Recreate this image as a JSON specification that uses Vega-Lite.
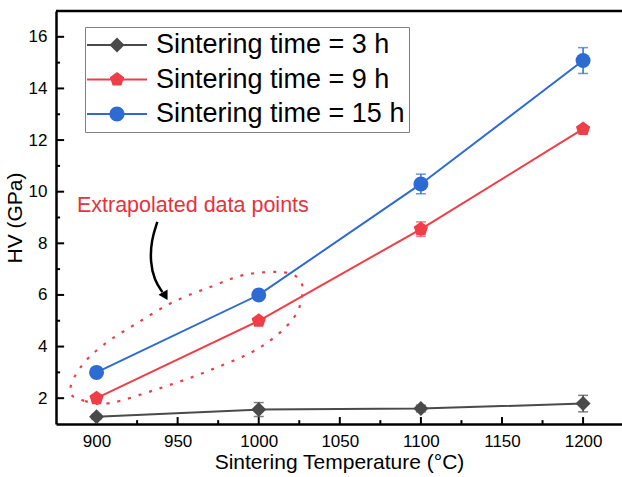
{
  "$schema": "https://vega.github.io/schema/vega-lite/v6.json",
  "width": 566,
  "height": 413,
  "autosize": "none",
  "padding": {"left": 56, "top": 11, "right": 0, "bottom": 53},
  "background": "white",
  "config": {
    "view": {"stroke": null},
    "font": "Liberation Sans",
    "axis": {
      "domainColor": "black",
      "domainWidth": 2.5,
      "labelColor": "black",
      "labelFontSize": 17,
      "titleFontSize": 21,
      "titleFontWeight": "normal",
      "titleColor": "black",
      "grid": false,
      "ticks": false,
      "labelOverlap": false
    }
  },
  "datasets": {
    "main": [
      {"s": "Sintering time = 3 h", "T": 900, "HV": 1.28, "lo": 1.18, "hi": 1.38},
      {"s": "Sintering time = 3 h", "T": 1000, "HV": 1.56, "lo": 1.29, "hi": 1.83},
      {"s": "Sintering time = 3 h", "T": 1100, "HV": 1.6, "lo": 1.47, "hi": 1.73},
      {"s": "Sintering time = 3 h", "T": 1200, "HV": 1.79, "lo": 1.47, "hi": 2.11},
      {"s": "Sintering time = 9 h", "T": 900, "HV": 2.0, "lo": 2.0, "hi": 2.0},
      {"s": "Sintering time = 9 h", "T": 1000, "HV": 5.0, "lo": 5.0, "hi": 5.0},
      {"s": "Sintering time = 9 h", "T": 1100, "HV": 8.55, "lo": 8.27, "hi": 8.83},
      {"s": "Sintering time = 9 h", "T": 1200, "HV": 12.43, "lo": 12.33, "hi": 12.53},
      {"s": "Sintering time = 15 h", "T": 900, "HV": 3.0, "lo": 3.0, "hi": 3.0},
      {"s": "Sintering time = 15 h", "T": 1000, "HV": 6.0, "lo": 6.0, "hi": 6.0},
      {"s": "Sintering time = 15 h", "T": 1100, "HV": 10.3, "lo": 9.92, "hi": 10.68},
      {"s": "Sintering time = 15 h", "T": 1200, "HV": 15.08, "lo": 14.58, "hi": 15.58}
    ],
    "ellipse": [
      {"i": 0, "T": 883.7, "HV": 2.24},
      {"i": 1, "T": 892.9, "HV": 1.89},
      {"i": 2, "T": 908.4, "HV": 1.81},
      {"i": 3, "T": 939.3, "HV": 2.39},
      {"i": 4, "T": 970.2, "HV": 3.09},
      {"i": 5, "T": 1001.2, "HV": 3.98},
      {"i": 6, "T": 1021.6, "HV": 5.11},
      {"i": 7, "T": 1027.1, "HV": 6.19},
      {"i": 8, "T": 1022.8, "HV": 6.73},
      {"i": 9, "T": 1011.7, "HV": 6.89},
      {"i": 10, "T": 990.6, "HV": 6.77},
      {"i": 11, "T": 970.2, "HV": 6.31},
      {"i": 12, "T": 947.4, "HV": 5.73},
      {"i": 13, "T": 925.1, "HV": 4.91},
      {"i": 14, "T": 904.1, "HV": 4.06},
      {"i": 15, "T": 889.8, "HV": 3.17}
    ],
    "arrow": [
      {"i": 0, "T": 937.5, "HV": 8.83},
      {"i": 1, "T": 933.8, "HV": 8.13},
      {"i": 2, "T": 933.1, "HV": 7.28},
      {"i": 3, "T": 935.6, "HV": 6.58},
      {"i": 4, "T": 940.6, "HV": 6.11}
    ],
    "head": [{"T": 942.4, "HV": 5.96}],
    "note": [{"T": 959.4, "HV": 9.45, "label": "Extrapolated data points"}],
    "top": [{"HV": 17}],
    "xmajor": [{"T": 900}, {"T": 950}, {"T": 1000}, {"T": 1050}, {"T": 1100}, {"T": 1150}, {"T": 1200}],
    "xminor": [{"T": 925}, {"T": 975}, {"T": 1025}, {"T": 1075}, {"T": 1125}, {"T": 1175}],
    "ymajor": [{"HV": 2}, {"HV": 4}, {"HV": 6}, {"HV": 8}, {"HV": 10}, {"HV": 12}, {"HV": 14}, {"HV": 16}],
    "yminor": [{"HV": 3}, {"HV": 5}, {"HV": 7}, {"HV": 9}, {"HV": 11}, {"HV": 13}, {"HV": 15}]
  },
  "layer": [
    {
      "data": {"name": "ellipse"},
      "mark": {"type": "line", "interpolate": "cardinal-closed", "stroke": "#e8404a", "strokeWidth": 2.2, "strokeDash": [3, 8]},
      "encoding": {
        "x": {"field": "T", "type": "quantitative"},
        "y": {"field": "HV", "type": "quantitative"},
        "order": {"field": "i"}
      }
    },
    {
      "data": {"name": "main"},
      "mark": {"type": "line", "strokeWidth": 2},
      "encoding": {
        "x": {
          "field": "T", "type": "quantitative",
          "scale": {"domain": [875, 1224], "nice": false, "zero": false},
          "axis": {
            "title": "Sintering Temperature (°C)",
            "values": [900, 950, 1000, 1050, 1100, 1150, 1200],
            "format": "d",
            "tickSize": 0,
            "labelPadding": 9,
            "titlePadding": 2
          }
        },
        "y": {
          "field": "HV", "type": "quantitative",
          "scale": {"domain": [1, 17], "nice": false, "zero": false},
          "axis": {
            "title": "HV (GPa)",
            "values": [2, 4, 6, 8, 10, 12, 14, 16],
            "format": "d",
            "tickSize": 0,
            "labelPadding": 9,
            "titlePadding": 3
          }
        },
        "color": {
          "field": "s", "type": "nominal",
          "scale": {"domain": ["Sintering time = 3 h", "Sintering time = 9 h", "Sintering time = 15 h"], "range": ["#4a4a4a", "#f03e48", "#2d6bd3"]}
        },
        "detail": {"field": "s"}
      }
    },
    {
      "data": {"name": "xmajor"},
      "mark": {"type": "rule", "color": "black", "strokeWidth": 2},
      "encoding": {
        "x": {"field": "T", "type": "quantitative"},
        "y": {"datum": 1},
        "y2": {"datum": 1.27}
      }
    },
    {
      "data": {"name": "xminor"},
      "mark": {"type": "rule", "color": "black", "strokeWidth": 2},
      "encoding": {
        "x": {"field": "T", "type": "quantitative"},
        "y": {"datum": 1},
        "y2": {"datum": 1.15}
      }
    },
    {
      "data": {"name": "ymajor"},
      "mark": {"type": "rule", "color": "black", "strokeWidth": 2},
      "encoding": {
        "y": {"field": "HV", "type": "quantitative"},
        "x": {"datum": 875},
        "x2": {"datum": 880}
      }
    },
    {
      "data": {"name": "yminor"},
      "mark": {"type": "rule", "color": "black", "strokeWidth": 2},
      "encoding": {
        "y": {"field": "HV", "type": "quantitative"},
        "x": {"datum": 875},
        "x2": {"datum": 877.5}
      }
    },
    {
      "data": {"name": "main"},
      "mark": {"type": "rule", "strokeWidth": 1.5},
      "encoding": {
        "x": {"field": "T", "type": "quantitative"},
        "y": {"field": "lo", "type": "quantitative"},
        "y2": {"field": "hi"},
        "color": {"field": "s", "type": "nominal"}
      }
    },
    {
      "data": {"name": "main"},
      "mark": {"type": "tick", "orient": "horizontal", "size": 10, "thickness": 1.5},
      "encoding": {
        "x": {"field": "T", "type": "quantitative"},
        "y": {"field": "lo", "type": "quantitative"},
        "color": {"field": "s", "type": "nominal"}
      }
    },
    {
      "data": {"name": "main"},
      "mark": {"type": "tick", "orient": "horizontal", "size": 10, "thickness": 1.5},
      "encoding": {
        "x": {"field": "T", "type": "quantitative"},
        "y": {"field": "hi", "type": "quantitative"},
        "color": {"field": "s", "type": "nominal"}
      }
    },
    {
      "data": {"name": "main"},
      "mark": {"type": "point", "opacity": 0, "size": 225, "filled": true},
      "encoding": {
        "x": {"field": "T", "type": "quantitative"},
        "y": {"field": "HV", "type": "quantitative"},
        "color": {
          "field": "s", "type": "nominal",
          "legend": {
            "orient": "none",
            "legendX": 29,
            "legendY": 16,
            "title": null,
            "padding": 4.5,
            "strokeColor": "#808080",
            "fillColor": "white",
            "labelFontSize": 27,
            "labelColor": "black",
            "labelLimit": 400,
            "symbolSize": 225,
            "symbolOffset": 14,
            "labelOffset": 25.5,
            "rowPadding": 6.5,
            "symbolStrokeWidth": 0,
            "symbolOpacity": 1,
            "encode": {
              "symbols": {
                "update": {
                  "fill": {"scale": "color", "field": "value"},
                  "opacity": {"value": 1},
                  "fillOpacity": {"value": 1},
                  "strokeOpacity": {"value": 0}
                }
              }
            }
          }
        },
        "shape": {
          "field": "s", "type": "nominal",
          "scale": {"domain": ["Sintering time = 3 h", "Sintering time = 9 h", "Sintering time = 15 h"], "range": ["M-4,-0.13H4V0.13H-4ZM0,-1L1,0L0,1L-1,0Z", "M-4,-0.13H4V0.13H-4ZM0,-1L0.951,-0.309L0.588,0.809L-0.588,0.809L-0.951,-0.309Z", "M-4,-0.13H4V0.13H-4ZM-1,0A1,1,0,1,1,1,0A1,1,0,1,1,-1,0Z"]},
          "legend": {"title": null}
        }
      }
    },
    {
      "data": {"name": "main"},
      "transform": [{"filter": "datum.s == 'Sintering time = 3 h'"}],
      "mark": {"type": "point", "filled": true, "size": 225, "opacity": 1, "shape": "diamond"},
      "encoding": {
        "x": {"field": "T", "type": "quantitative"},
        "y": {"field": "HV", "type": "quantitative"},
        "color": {"field": "s", "type": "nominal"}
      }
    },
    {
      "data": {"name": "main"},
      "transform": [{"filter": "datum.s == 'Sintering time = 9 h'"}],
      "mark": {"type": "point", "filled": true, "size": 225, "opacity": 1, "shape": "M0,-1L0.951,-0.309L0.588,0.809L-0.588,0.809L-0.951,-0.309Z"},
      "encoding": {
        "x": {"field": "T", "type": "quantitative"},
        "y": {"field": "HV", "type": "quantitative"},
        "color": {"field": "s", "type": "nominal"}
      }
    },
    {
      "data": {"name": "main"},
      "transform": [{"filter": "datum.s == 'Sintering time = 15 h'"}],
      "mark": {"type": "point", "filled": true, "size": 225, "opacity": 1, "shape": "circle"},
      "encoding": {
        "x": {"field": "T", "type": "quantitative"},
        "y": {"field": "HV", "type": "quantitative"},
        "color": {"field": "s", "type": "nominal"}
      }
    },
    {
      "data": {"name": "note"},
      "mark": {"type": "text", "fontSize": 21.5, "color": "#e6323c", "align": "center", "baseline": "middle"},
      "encoding": {
        "x": {"field": "T", "type": "quantitative"},
        "y": {"field": "HV", "type": "quantitative"},
        "text": {"field": "label"}
      }
    },
    {
      "data": {"name": "arrow"},
      "mark": {"type": "line", "interpolate": "basis", "stroke": "black", "strokeWidth": 2.5},
      "encoding": {
        "x": {"field": "T", "type": "quantitative"},
        "y": {"field": "HV", "type": "quantitative"},
        "order": {"field": "i"}
      }
    },
    {
      "data": {"name": "head"},
      "mark": {"type": "point", "shape": "triangle-down", "filled": true, "color": "black", "size": 110, "angle": 330, "opacity": 1},
      "encoding": {
        "x": {"field": "T", "type": "quantitative"},
        "y": {"field": "HV", "type": "quantitative"}
      }
    },
    {
      "data": {"name": "top"},
      "mark": {"type": "rule", "color": "black", "strokeWidth": 2.5},
      "encoding": {"y": {"field": "HV", "type": "quantitative"}}
    }
  ]
}
